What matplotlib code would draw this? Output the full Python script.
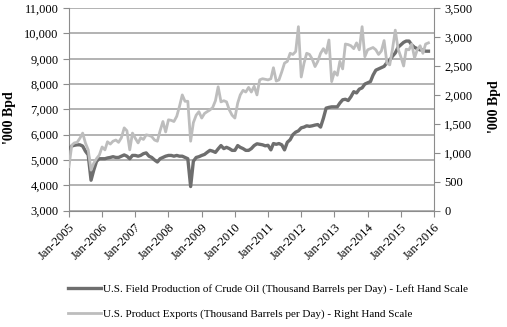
import matplotlib
matplotlib.use('Agg')
import matplotlib.pyplot as plt
from matplotlib.lines import Line2D
import numpy as np
import pandas as pd

plt.rcParams['font.family'] = ['Liberation Serif', 'DejaVu Serif']

# monthly, Jan-2005 .. Nov-2015
months = pd.date_range('2005-01-01', periods=131, freq='MS')

# U.S. field production of crude oil ('000 bpd), left scale
crude = [
    5450, 5550, 5580, 5600, 5600, 5550, 5350, 5200, 4200, 4600, 4950, 5050,   # 2005
    5050, 5050, 5080, 5100, 5130, 5100, 5100, 5150, 5200, 5150, 5050, 5180,   # 2006
    5180, 5150, 5180, 5250, 5280, 5150, 5100, 5000, 4920, 5050, 5100, 5150,   # 2007
    5180, 5180, 5150, 5180, 5150, 5150, 5100, 5050, 3950, 4950, 5100, 5130,   # 2008
    5180, 5220, 5300, 5380, 5350, 5300, 5440, 5570, 5450, 5500, 5450, 5380,   # 2009
    5380, 5570, 5500, 5450, 5380, 5380, 5450, 5570, 5640, 5620, 5600, 5560,   # 2010
    5580, 5400, 5650, 5620, 5650, 5600, 5400, 5700, 5800, 6000, 6100, 6150,   # 2011
    6270, 6300, 6350, 6330, 6350, 6380, 6400, 6300, 6650, 7050, 7080, 7100,   # 2012
    7100, 7100, 7250, 7380, 7400, 7350, 7500, 7700, 7650, 7800, 7850, 8000,   # 2013
    8050, 8100, 8350, 8550, 8600, 8650, 8700, 8850, 8950, 9100, 9230, 9450,   # 2014
    9550, 9650, 9700, 9700, 9550, 9450, 9400, 9350, 9350, 9300, 9300,         # 2015
]

# U.S. product exports ('000 bpd), right scale
exports = [
    760, 1130, 1170, 1180, 1250, 1340, 1170, 1050, 700, 820, 900, 960,        # 2005
    1100, 1050, 1190, 1150, 1200, 1220, 1180, 1260, 1430, 1380, 1050, 1340,   # 2006
    1250, 1170, 1260, 1230, 1310, 1300, 1280, 1220, 1200, 1380, 1540, 1360,   # 2007
    1570, 1560, 1540, 1630, 1800, 2000, 1890, 1890, 1200, 1520, 1650, 1710,   # 2008
    1600, 1680, 1710, 1740, 1780, 1900, 2140, 1880, 1900, 1880, 1740, 1650,   # 2009
    1600, 1860, 2000, 2080, 2050, 2130, 2050, 2150, 2000, 2260, 2280, 2270,   # 2010
    2260, 2280, 2470, 2240, 2260, 2400, 2550, 2580, 2720, 2700, 2750, 3180,   # 2011
    2310, 2550, 2720, 2700, 2620, 2490, 2580, 2720, 2800, 2720, 2950, 2230,   # 2012
    2400, 2340, 2580, 2450, 2880, 2870, 2850, 2800, 2900, 2780, 3180, 2660,   # 2013
    2780, 2800, 2820, 2780, 2700, 2760, 2940, 2550, 2520, 2790, 3120, 2800,   # 2014
    2660, 2500, 2790, 2780, 2880, 2640, 2780, 2850, 2720, 2880, 2900,         # 2015
]

tick_years = list(range(2005, 2017))
crude_label = 'U.S. Field Production of Crude Oil (Thousand Barrels per Day) - Left Hand Scale'
exports_label = 'U.S. Product Exports (Thousand Barrels per Day) - Right Hand Scale'

c_crude = '#6e6e6e'
c_exp = '#bdbdbd'
c_axis = '#8c8c8c'
c_grid = '#a6a6a6'

fig = plt.figure(figsize=(5.07, 3.27), dpi=100)
ax = fig.add_axes([0.136, 0.356, 0.720, 0.619])
ax2 = ax.twinx()

ax.plot(months, crude, color=c_crude, lw=2.4, zorder=3)
ax2.plot(months, exports, color=c_exp, lw=2.0, zorder=3)

ax.set_ylim(3000, 11000)
ax.set_yticks(np.arange(3000, 11001, 1000))
ax.yaxis.set_major_formatter(matplotlib.ticker.StrMethodFormatter('{x:,.0f}'))
ax2.set_ylim(0, 3500)
ax2.set_yticks(np.arange(0, 3501, 500))
ax2.yaxis.set_major_formatter(matplotlib.ticker.StrMethodFormatter('{x:,.0f}'))

ticks = [pd.Timestamp(f'{y}-01-01') for y in tick_years]
ax.set_xlim(ticks[0], ticks[-1])
ax.set_xticks(ticks)
ax.set_xticklabels([f'Jan-{y}' for y in tick_years], rotation=45, ha='right',
                   rotation_mode='anchor', fontsize=9)

ax.grid(axis='y', color=c_grid, lw=1.2, zorder=0)
ax.set_axisbelow(True)

for a in (ax, ax2):
    a.spines['top'].set_visible(False)
    for s in ('left', 'right', 'bottom'):
        a.spines[s].set_color(c_axis)
    a.tick_params(colors=c_axis, labelcolor='black', labelsize=9, length=4, width=0.8)
ax.spines['right'].set_visible(False)
ax2.spines['left'].set_visible(False)
ax2.spines['bottom'].set_visible(False)

fig.text(0.018, 0.64, "'000 Bpd", rotation=90, fontsize=10, fontweight='bold',
         ha='center', va='center')
fig.text(0.975, 0.675, "'000 Bpd", rotation=90, fontsize=10, fontweight='bold',
         ha='center', va='center')

handles = [Line2D([], [], color=c_crude, lw=2.4),
           Line2D([], [], color=c_exp, lw=2.0)]
fig.legend(handles, [crude_label, exports_label], loc='upper left',
           bbox_to_anchor=(0.125, 0.145), frameon=False, fontsize=8,
           handlelength=3.0, handletextpad=0.2, labelspacing=1.35,
           borderaxespad=0)

fig.savefig('out.png', dpi=100)
